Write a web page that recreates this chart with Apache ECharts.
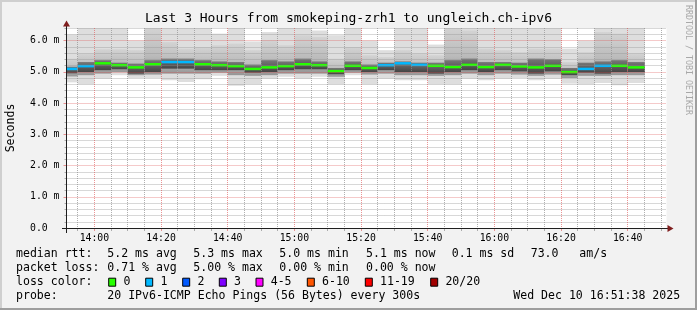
<!DOCTYPE html>
<html><head><meta charset="utf-8">
<script src="https://cdn.jsdelivr.net/npm/echarts@6/dist/echarts.min.js"></script>
<style>html,body{margin:0;padding:0;background:#f2f2f2}#c{width:697px;height:310px}</style>
</head><body><div id="c"></div>
<script>
// ---------- data ----------
const titleText = 'Last 3 Hours from smokeping-zrh1 to ungleich.ch-ipv6';
const rangeStart = '13:51:38', rangeEnd = '16:51:38';
const stepMin = 5;
const slotStart = ['13:50','13:55','14:00','14:05','14:10','14:15','14:20','14:25','14:30','14:35','14:40','14:45','14:50','14:55',
  '15:00','15:05','15:10','15:15','15:20','15:25','15:30','15:35','15:40','15:45','15:50','15:55',
  '16:00','16:05','16:10','16:15','16:20','16:25','16:30','16:35','16:40'];
const medianRtt = [5.09,5.18,5.27,5.21,5.14,5.24,5.31,5.31,5.24,5.21,5.18,5.09,5.14,5.18,5.24,5.21,5.02,5.19,5.12,5.21,5.27,5.22,5.19,5.15,5.22,5.15,5.22,5.17,5.14,5.19,4.99,5.09,5.19,5.19,5.14];
const lossCount = [1,1,0,0,0,0,1,1,0,0,0,0,0,0,0,0,0,0,0,1,1,1,0,0,0,0,0,0,0,0,0,1,1,0,0];
const smokeTop    = [6.19,6.60,6.60,6.60,6.00,7.20,6.80,6.60,6.42,6.22,6.60,5.97,6.27,6.40,6.60,6.32,6.17,6.60,6.00,5.69,6.60,6.60,5.87,7.00,7.00,6.60,6.60,6.60,6.60,6.60,5.74,6.00,6.80,6.60,6.60];
const smokeUpper  = [5.42,5.58,5.72,5.72,5.69,6.40,5.95,5.74,5.79,5.85,5.90,5.69,6.01,5.85,6.17,6.11,5.42,5.79,5.53,5.47,5.69,5.58,5.53,6.50,6.32,5.74,5.69,5.63,5.74,5.74,5.31,5.63,6.27,6.22,5.58];
const smokeCoreHi = [5.16,5.31,5.37,5.29,5.26,5.37,5.42,5.42,5.37,5.33,5.31,5.23,5.37,5.33,5.42,5.33,5.12,5.33,5.23,5.29,5.33,5.29,5.29,5.37,5.42,5.31,5.31,5.29,5.42,5.40,5.12,5.29,5.33,5.37,5.31];
const smokeCoreLo = [4.95,4.99,5.05,5.08,4.94,4.99,5.10,5.10,5.05,5.05,5.05,4.97,4.99,5.05,5.08,5.08,4.92,5.05,4.99,5.05,4.99,4.99,4.94,4.99,5.05,4.99,5.05,5.01,4.94,5.01,4.89,4.97,4.94,4.99,4.99];
const smokeLower  = [4.85,4.89,4.94,4.99,4.89,4.91,4.94,4.94,4.94,4.97,4.89,4.87,4.89,4.94,4.94,4.94,4.84,4.97,4.91,4.94,4.89,4.89,4.87,4.89,4.94,4.89,4.94,4.91,4.87,4.91,4.80,4.87,4.87,4.89,4.89];
const smokeBottom = [4.66,4.60,4.78,4.89,4.80,4.80,4.73,4.67,4.76,4.87,4.55,4.60,4.78,4.84,4.78,4.84,4.60,4.89,4.60,4.78,4.73,4.73,4.60,4.60,4.78,4.73,4.78,4.80,4.73,4.78,4.62,4.60,4.64,4.57,4.64];
const xTickLabels = ['14:00','14:20','14:40','15:00','15:20','15:40','16:00','16:20','16:40'];
const yTickValues = [0,1,2,3,4,5,6];
const yMax = 6.4;
const lossLegend = [['0','#26ff00'],['1','#00b8ff'],['2','#0059ff'],['3','#7e00ff'],['4-5','#ff00ff'],['6-10','#ff5500'],['11-19','#ff0000'],['20/20','#a10000']];
const lossUpper = [0,1,2,3,5,10,19,20];
const rttStats = ['5.2 ms avg','5.3 ms max','5.0 ms min','5.1 ms now','0.1 ms sd','73.0','am/s'];
const lossStats = ['0.71 % avg','5.00 % max','0.00 % min','0.00 % now'];
const probeText = '20 IPv6-ICMP Echo Pings (56 Bytes) every 300s';
const dateText = 'Wed Dec 10 16:51:38 2025';

// ---------- helpers ----------
const toMin = s => { const p = s.split(':').map(Number); return p[0]*60 + p[1] + (p[2]||0)/60; };
const xMin = toMin(rangeStart), xMax = toMin(rangeEnd);
const majorX = xTickLabels.map(toMin);
const minorX = []; for (let t = Math.ceil(xMin/5)*5; t <= xMax; t += 5) if (t % 20 !== 0) minorX.push(t);
const minorY = []; for (let i = 1; i <= 32; i++) if (i % 5) minorY.push(+(i*0.2).toFixed(1));
function lossColor(n){ for (let i=0;i<lossUpper.length;i++) if (n<=lossUpper[i]) return lossLegend[i][1]; return lossLegend[7][1]; }
const fmtTime = v => { const m = Math.round(v); const h = Math.floor(m/60), mm = m%60; return (h<10?'0':'')+h+':'+(mm<10?'0':'')+mm; };

const data = slotStart.map((s,i)=>[toMin(s), smokeTop[i], smokeUpper[i], smokeCoreHi[i], medianRtt[i], smokeCoreLo[i], smokeLower[i], smokeBottom[i], lossCount[i]]);

const MONO = '"DejaVu Sans Mono", monospace';
const G = {left: 66.5, top: 28, width: 600, height: 200};
const MAJ = 'rgba(222,79,79,0.6)', MIN = 'rgba(143,143,143,0.7)';

function txt(x, y, text, o) {
  o = o || {};
  return {type:'text', x, y, z: 20, rotation: o.rotation || 0, silent: true,
    style: {text, fill: o.fill || '#000', font: (o.size || 11.55) + 'px ' + MONO,
      align: o.align || 'left', textAlign: o.align || 'left', verticalAlign: 'middle', textVerticalAlign: 'middle'}};
}
const line = (x1,y1,x2,y2,stroke,w) => ({type:'line', z: 20, silent:true, shape:{x1,y1,x2,y2}, style:{stroke, lineWidth: w||1}});

const graphics = [];
graphics.push(line(0,1,697,1,'#cfcfcf',2), line(1,0,1,310,'#cfcfcf',2), line(0,309,697,309,'#9e9e9e',2), line(696,0,696,310,'#9e9e9e',2));
graphics.push(txt(348.5, 18.5, titleText, {size: 13, align: 'center'}));
graphics.push(txt(10.5, 128, 'Seconds', {rotation: Math.PI/2, align: 'center'}));
graphics.push(txt(688.5, 60, 'RRDTOOL / TOBI OETIKER', {rotation: -Math.PI/2, align: 'center', size: 8.3, fill: '#a8a8a8'}));
const axisY = G.top + G.height + 0.5, axisX = G.left;
graphics.push(line(62, axisY, 668, axisY, '#1f1f1f', 1));
graphics.push(line(axisX, 233, axisX, 25, '#1f1f1f', 1));
graphics.push({type:'polygon', z: 21, silent:true, shape:{points:[[667.5,axisY-3.5],[673.5,axisY],[667.5,axisY+3.5]]}, style:{fill:'#801f1f'}});
graphics.push({type:'polygon', z: 21, silent:true, shape:{points:[[axisX-3.5,26.5],[axisX,20.5],[axisX+3.5,26.5]]}, style:{fill:'#801f1f'}});
const L1 = 254.2, L2 = 268.2, L3 = 282.2, L4 = 296.2;
const statX = [107.3, 193.3, 279.3, 366, 451.7, 530.7, 579.3];
graphics.push(txt(16, L1, 'median rtt:'));
rttStats.forEach((s,i)=>graphics.push(txt(statX[i], L1, s)));
graphics.push(txt(16, L2, 'packet loss:'));
lossStats.forEach((s,i)=>graphics.push(txt(statX[i], L2, s)));
graphics.push(txt(16, L3, 'loss color:'));
const boxX = [108.7, 145.7, 182.7, 219.3, 256, 307.3, 365.3, 430.7];
lossLegend.forEach((e,i)=>{
  graphics.push({type:'rect', z: 20, silent:true, shape:{x: boxX[i], y: L3-4, width: 7, height: 8}, style:{fill: e[1], stroke:'#000', lineWidth:1}});
  graphics.push(txt(boxX[i]+14.7, L3, e[0]));
});
graphics.push(txt(16, L4, 'probe:'));
graphics.push(txt(107.3, L4, probeText));
graphics.push(txt(513.3, L4, dateText));

const chart = echarts.init(document.getElementById('c'), null, {renderer:'canvas'});
chart.setOption({
  animation: false,
  backgroundColor: '#f2f2f2',
  grid: Object.assign({show: true, backgroundColor: '#ffffff', borderWidth: 0}, G),
  xAxis: [
    {type:'value', min: xMin, max: xMax, position:'bottom', z: 5,
     axisLine:{show:false},
     axisTick:{show:true, customValues: majorX, length: 3, lineStyle:{color: MAJ}},
     axisLabel:{show:true, customValues: majorX, formatter: fmtTime, margin: 5.6, color:'#000', fontFamily: MONO, fontSize: 9.8},
     splitLine:{show:true, lineStyle:{color: MAJ, type:[1,1], width:1}}},
    {type:'value', min: xMin, max: xMax, position:'bottom', z: 4,
     axisLine:{show:false},
     axisTick:{show:true, customValues: minorX, length: 3, lineStyle:{color: MIN}},
     axisLabel:{show:false},
     splitLine:{show:true, lineStyle:{color: MIN, type:[1,1], width:1}}}
  ],
  yAxis: [
    {type:'value', min: 0, max: yMax, position:'left', z: 5,
     axisLine:{show:false},
     axisTick:{show:true, customValues: yTickValues, length: 3, lineStyle:{color: MAJ}},
     axisLabel:{show:true, customValues: yTickValues, align:'left', margin: 36.5, color:'#000', fontFamily: MONO, fontSize: 9.8,
       formatter: v => v === 0 ? '0.0' : v.toFixed(1) + ' m'},
     splitLine:{show:true, lineStyle:{color: MAJ, type:[1,1], width:1}}},
    {type:'value', min: 0, max: yMax, position:'left', z: 4,
     axisLine:{show:false},
     axisTick:{show:true, customValues: minorY, length: 2, lineStyle:{color: MIN}},
     axisLabel:{show:false},
     splitLine:{show:true, lineStyle:{color: MIN, type:[1,1], width:1}}}
  ],
  series: [{
    type: 'custom', xAxisIndex: 0, yAxisIndex: 0, z: 2,
    encode: {x: 0, y: 4},
    data: data,
    renderItem: function (params, api) {
      const cs = params.coordSys;
      const box = {x: cs.x, y: cs.y, width: cs.width, height: cs.height};
      const t0 = api.value(0), t1 = t0 + stepMin;
      function band(hi, lo) {
        const a = api.coord([t0, hi]), b = api.coord([t1, lo]);
        return echarts.graphic.clipRectByRect({x: a[0], y: a[1], width: b[0]-a[0]+0.4, height: b[1]-a[1]}, box);
      }
      const kids = [];
      const add = (shape, fill) => { if (shape) kids.push({type:'rect', shape, style:{fill}}); };
      add(band(api.value(1), api.value(7)), '#dedede');
      add(band(api.value(2), api.value(6)), {type:'linear', x:0, y:0, x2:0, y2:1, colorStops:[{offset:0,color:'#d3d3d3'},{offset:0.6,color:'#bababa'},{offset:1,color:'#959595'}]});
      add(band(api.value(3), api.value(5)), {type:'linear', x:0, y:0, x2:0, y2:1, colorStops:[{offset:0,color:'#787878'},{offset:1,color:'#444444'}]});
      const m0 = api.coord([t0, api.value(4)]), m1 = api.coord([t1, api.value(4)]);
      add(echarts.graphic.clipRectByRect({x: m0[0], y: m0[1]-1.25, width: m1[0]-m0[0]+0.4, height: 2.5}, box), lossColor(api.value(8)));
      return {type:'group', children: kids};
    }
  }],
  graphic: graphics
});
</script></body></html>
